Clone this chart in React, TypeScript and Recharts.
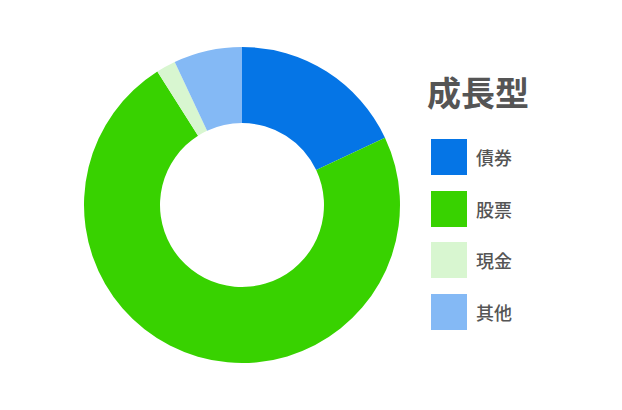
import { PieChart, Pie, Cell, Legend } from "recharts";

const categories = ["債券", "股票", "現金", "其他"];
const shares = [18, 73, 2, 7];
const colors = ["#0575e6", "#38d200", "#d8f6d0", "#84b9f5"];
const title = "成長型";

const data = categories.map((name, i) => ({ name, value: shares[i] }));

const font = '"Noto Sans CJK JP", "Noto Sans", sans-serif';

function LegendBox() {
  return (
    <div style={{ fontFamily: font, color: "#555" }}>
      <div style={{ fontSize: 34, fontWeight: 700, lineHeight: "40px", marginLeft: -4 }}>{title}</div>
      <div style={{ marginTop: 27 }}>
        {categories.map((name, i) => (
          <div key={name} style={{ display: "flex", alignItems: "center", height: 36, marginBottom: 15.7 }}>
            <div style={{ width: 36, height: 36, background: colors[i] }} />
            <span style={{ marginLeft: 9, fontSize: 18, fontWeight: 500 }}>{name}</span>
          </div>
        ))}
      </div>
    </div>
  );
}

export default function App() {
  return (
    <div style={{ position: "absolute", left: 0, top: 0, width: 622, height: 410, background: "#fff" }}>
      <PieChart width={622} height={410} margin={{ top: 0, right: 0, bottom: 0, left: 0 }}>
        <Pie
          data={data}
          dataKey="value"
          nameKey="name"
          cx={242}
          cy={205}
          innerRadius={82}
          outerRadius={158}
          startAngle={90}
          endAngle={-270}
          stroke="none"
          isAnimationActive={false}
        >
          {data.map((d, i) => (
            <Cell key={d.name} fill={colors[i]} />
          ))}
        </Pie>
        <Legend
          content={() => <LegendBox />}
          wrapperStyle={{ left: 431, top: 72, width: 180 }}
        />
      </PieChart>
    </div>
  );
}
